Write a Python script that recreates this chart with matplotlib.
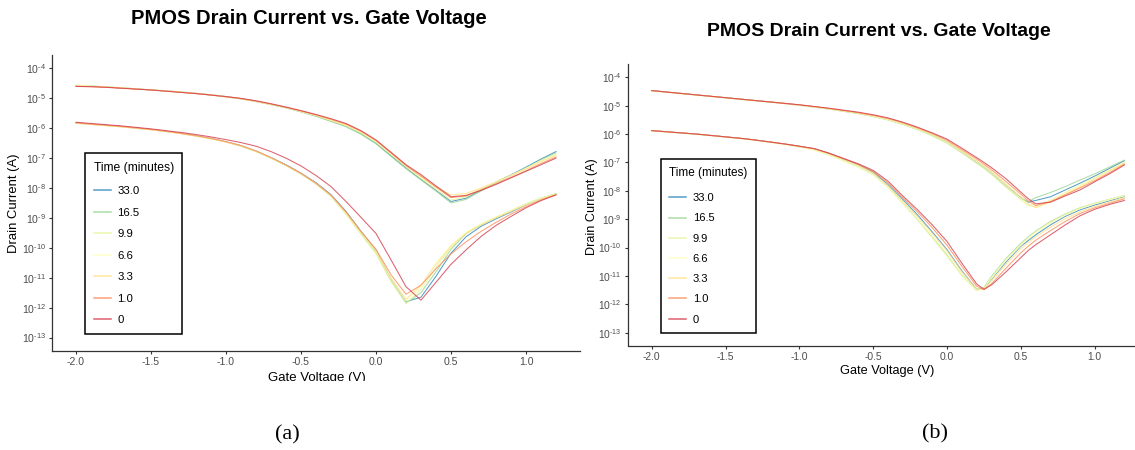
import numpy as np
import matplotlib
matplotlib.use("Agg")
import matplotlib.pyplot as plt
from matplotlib.lines import Line2D
from matplotlib.patches import Rectangle

plt.rcParams['font.family'] = ['Liberation Sans', 'DejaVu Sans']
plt.rcParams['mathtext.fontset'] = 'custom'
plt.rcParams['mathtext.rm'] = 'Liberation Sans'
plt.rcParams['mathtext.it'] = 'Liberation Sans:italic'
plt.rcParams['mathtext.bf'] = 'Liberation Sans:bold'

# ---------------- text ----------------
TITLE = "PMOS Drain Current vs. Gate Voltage"
XLABEL = "Gate Voltage (V)"
YLABEL = "Drain Current (A)"
LEGEND_TITLE = "Time (minutes)"
captions = ["(a)", "(b)"]
times = ["33.0", "16.5", "9.9", "6.6", "3.3", "1.0", "0"]
colors = ["#3288BD", "#99D594", "#E6F598", "#FFFFBF", "#FEE08B", "#FC8D59", "#D53E4F"]
x_ticks = [-2.0, -1.5, -1.0, -0.5, 0.0, 0.5, 1.0]
x_tick_labels = ["-2.0", "-1.5", "-1.0", "-0.5", "0.0", "0.5", "1.0"]
y_tick_exponents = [-4, -5, -6, -7, -8, -9, -10, -11, -12, -13]

# ---------------- panel (a) data: log10 of drain current (A) ----------------
vg_a = [-2.0, -1.9, -1.8, -1.7, -1.6, -1.5, -1.4, -1.3, -1.2, -1.1,
        -1.0, -0.9, -0.8, -0.7, -0.6, -0.5, -0.4, -0.3, -0.2, -0.1,
        0.0, 0.1, 0.2, 0.3, 0.4, 0.5, 0.6, 0.7, 0.8, 0.9, 1.0, 1.1, 1.2]

a_up_33_0 = [-4.57, -4.59, -4.62, -4.65, -4.68, -4.72, -4.75, -4.79, -4.83, -4.88,
             -4.94, -5.01, -5.10, -5.20, -5.31, -5.44, -5.59, -5.76, -5.93, -6.18,
             -6.50, -6.92, -7.33, -7.71, -8.08, -8.45, -8.34, -8.07, -7.80, -7.56,
             -7.30, -7.03, -6.78]
a_up_16_5 = [-4.57, -4.59, -4.62, -4.65, -4.68, -4.72, -4.75, -4.79, -4.84, -4.89,
             -4.95, -5.02, -5.11, -5.21, -5.32, -5.45, -5.60, -5.77, -5.95, -6.20,
             -6.52, -6.94, -7.35, -7.73, -8.10, -8.50, -8.38, -8.10, -7.83, -7.58,
             -7.33, -7.06, -6.82]
a_up_9_9 = [-4.56, -4.58, -4.61, -4.64, -4.68, -4.71, -4.75, -4.79, -4.83, -4.88,
            -4.94, -5.01, -5.10, -5.20, -5.31, -5.44, -5.58, -5.75, -5.92, -6.16,
            -6.47, -6.88, -7.29, -7.67, -8.03, -8.40, -8.30, -8.05, -7.80, -7.57,
            -7.33, -7.08, -6.86]
a_up_6_6 = [-4.57, -4.59, -4.62, -4.65, -4.68, -4.72, -4.75, -4.79, -4.83, -4.88,
            -4.94, -5.01, -5.10, -5.20, -5.31, -5.43, -5.57, -5.73, -5.90, -6.13,
            -6.44, -6.84, -7.25, -7.63, -7.98, -8.30, -8.22, -8.02, -7.80, -7.58,
            -7.35, -7.10, -6.88]
a_up_3_3 = [-4.58, -4.60, -4.62, -4.65, -4.69, -4.72, -4.76, -4.80, -4.84, -4.89,
            -4.95, -5.01, -5.10, -5.20, -5.31, -5.43, -5.57, -5.73, -5.89, -6.12,
            -6.42, -6.82, -7.23, -7.60, -7.95, -8.23, -8.18, -8.00, -7.80, -7.58,
            -7.36, -7.12, -6.90]
a_up_1_0 = [-4.60, -4.61, -4.63, -4.66, -4.69, -4.72, -4.76, -4.80, -4.84, -4.89,
            -4.95, -5.01, -5.09, -5.19, -5.30, -5.42, -5.55, -5.70, -5.86, -6.10,
            -6.41, -6.83, -7.25, -7.60, -7.97, -8.32, -8.26, -8.06, -7.86, -7.64,
            -7.42, -7.18, -6.96]
a_up_0 = [-4.60, -4.61, -4.63, -4.66, -4.69, -4.72, -4.76, -4.80, -4.84, -4.89,
          -4.94, -5.00, -5.08, -5.18, -5.29, -5.41, -5.54, -5.68, -5.84, -6.08,
          -6.39, -6.80, -7.22, -7.55, -7.93, -8.29, -8.25, -8.08, -7.88, -7.66,
          -7.44, -7.22, -7.00]

a_lo_33_0 = [-5.82, -5.86, -5.90, -5.94, -5.99, -6.04, -6.10, -6.17, -6.25, -6.34,
             -6.45, -6.58, -6.76, -6.98, -7.22, -7.50, -7.82, -8.22, -8.78, -9.45,
             -10.08, -11.05, -11.80, -11.65, -10.95, -10.18, -9.63, -9.28, -9.03, -8.80,
             -8.56, -8.36, -8.20]
a_lo_16_5 = [-5.83, -5.87, -5.91, -5.95, -6.00, -6.05, -6.11, -6.18, -6.26, -6.35,
             -6.46, -6.60, -6.78, -7.00, -7.25, -7.53, -7.86, -8.27, -8.85, -9.52,
             -10.15, -11.10, -11.85, -11.50, -10.80, -10.05, -9.52, -9.22, -8.98, -8.76,
             -8.53, -8.34, -8.19]
a_lo_9_9 = [-5.83, -5.87, -5.91, -5.95, -6.00, -6.05, -6.11, -6.18, -6.26, -6.35,
            -6.46, -6.60, -6.78, -7.00, -7.25, -7.53, -7.86, -8.28, -8.88, -9.55,
            -10.20, -11.12, -11.85, -11.40, -10.65, -9.98, -9.50, -9.20, -8.97, -8.75,
            -8.53, -8.34, -8.19]
a_lo_6_6 = [-5.83, -5.87, -5.91, -5.95, -6.00, -6.05, -6.11, -6.18, -6.26, -6.35,
            -6.46, -6.59, -6.77, -6.99, -7.24, -7.52, -7.85, -8.26, -8.84, -9.50,
            -10.12, -11.05, -11.78, -11.30, -10.50, -9.90, -9.48, -9.20, -8.97, -8.76,
            -8.54, -8.35, -8.20]
a_lo_3_3 = [-5.83, -5.87, -5.91, -5.95, -6.00, -6.05, -6.11, -6.18, -6.26, -6.35,
            -6.46, -6.59, -6.77, -6.99, -7.24, -7.52, -7.85, -8.25, -8.82, -9.48,
            -10.10, -11.00, -11.72, -11.25, -10.55, -9.95, -9.52, -9.24, -9.00, -8.78,
            -8.56, -8.37, -8.21]
a_lo_1_0 = [-5.82, -5.86, -5.90, -5.94, -5.99, -6.04, -6.10, -6.17, -6.25, -6.34,
            -6.45, -6.58, -6.76, -6.98, -7.23, -7.51, -7.84, -8.24, -8.80, -9.45,
            -10.05, -10.90, -11.55, -11.25, -10.70, -10.20, -9.80, -9.45, -9.15, -8.87,
            -8.62, -8.40, -8.22]
a_lo_0 = [-5.80, -5.84, -5.88, -5.92, -5.97, -6.02, -6.08, -6.14, -6.21, -6.29,
          -6.38, -6.48, -6.60, -6.78, -7.00, -7.26, -7.58, -7.95, -8.45, -8.98,
          -9.52, -10.40, -11.30, -11.75, -11.15, -10.55, -10.07, -9.62, -9.25, -8.95,
          -8.66, -8.42, -8.23]

# ---------------- panel (b) data: log10 of drain current (A) ----------------
vg_b = [-2.0, -1.9, -1.8, -1.7, -1.6, -1.5, -1.4, -1.3, -1.2, -1.1,
        -1.0, -0.9, -0.8, -0.7, -0.6, -0.5, -0.4, -0.3, -0.2, -0.1,
        0.0, 0.1, 0.2, 0.25, 0.3, 0.4, 0.5, 0.55, 0.6, 0.7, 0.8, 0.9, 1.0, 1.1, 1.2]

b_up_33_0 = [-4.47, -4.52, -4.57, -4.62, -4.67, -4.72, -4.77, -4.82, -4.87, -4.92,
             -4.98, -5.04, -5.11, -5.19, -5.27, -5.37, -5.49, -5.64, -5.82, -6.03,
             -6.29, -6.63, -6.98, -7.16, -7.36, -7.82, -8.25, -8.40, -8.34, -8.21,
             -7.97, -7.73, -7.48, -7.21, -6.94]
b_up_16_5 = [-4.47, -4.52, -4.57, -4.62, -4.67, -4.72, -4.77, -4.82, -4.87, -4.93,
             -4.99, -5.05, -5.12, -5.20, -5.28, -5.38, -5.50, -5.66, -5.84, -6.06,
             -6.32, -6.66, -7.02, -7.20, -7.40, -7.86, -8.28, -8.38, -8.24, -8.06,
             -7.85, -7.62, -7.40, -7.16, -6.92]
b_up_9_9 = [-4.48, -4.53, -4.58, -4.63, -4.68, -4.73, -4.78, -4.83, -4.88, -4.93,
            -4.99, -5.05, -5.12, -5.20, -5.28, -5.38, -5.50, -5.66, -5.84, -6.06,
            -6.32, -6.66, -7.02, -7.21, -7.42, -7.88, -8.32, -8.52, -8.55, -8.33,
            -8.06, -7.80, -7.53, -7.26, -7.00]
b_up_6_6 = [-4.48, -4.53, -4.58, -4.63, -4.68, -4.73, -4.78, -4.83, -4.88, -4.93,
            -4.99, -5.05, -5.12, -5.19, -5.27, -5.37, -5.49, -5.64, -5.82, -6.03,
            -6.29, -6.62, -6.97, -7.16, -7.36, -7.82, -8.28, -8.50, -8.58, -8.36,
            -8.08, -7.82, -7.55, -7.28, -7.02]
b_up_3_3 = [-4.47, -4.52, -4.57, -4.62, -4.67, -4.72, -4.77, -4.82, -4.87, -4.92,
            -4.98, -5.04, -5.10, -5.18, -5.26, -5.35, -5.47, -5.62, -5.80, -6.01,
            -6.26, -6.59, -6.94, -7.12, -7.32, -7.77, -8.22, -8.46, -8.60, -8.40,
            -8.12, -7.86, -7.58, -7.30, -7.03]
b_up_1_0 = [-4.47, -4.52, -4.57, -4.62, -4.67, -4.72, -4.77, -4.82, -4.87, -4.92,
            -4.97, -5.03, -5.10, -5.17, -5.25, -5.34, -5.45, -5.60, -5.78, -5.98,
            -6.22, -6.55, -6.88, -7.06, -7.25, -7.68, -8.12, -8.36, -8.52, -8.38,
            -8.14, -7.90, -7.64, -7.36, -7.06]
b_up_0 = [-4.47, -4.52, -4.57, -4.62, -4.67, -4.72, -4.77, -4.82, -4.87, -4.92,
          -4.97, -5.03, -5.09, -5.16, -5.23, -5.32, -5.43, -5.58, -5.76, -5.96,
          -6.18, -6.50, -6.83, -7.00, -7.18, -7.58, -8.05, -8.28, -8.46, -8.40,
          -8.18, -7.97, -7.68, -7.40, -7.09]

b_lo_33_0 = [-5.88, -5.92, -5.96, -6.00, -6.05, -6.10, -6.15, -6.21, -6.28, -6.35,
             -6.43, -6.52, -6.68, -6.88, -7.08, -7.34, -7.78, -8.30, -8.85, -9.45,
             -10.08, -10.82, -11.47, -11.45, -11.12, -10.50, -9.95, -9.75, -9.55, -9.20,
             -8.90, -8.67, -8.50, -8.35, -8.20]
b_lo_16_5 = [-5.88, -5.92, -5.96, -6.00, -6.05, -6.10, -6.15, -6.21, -6.28, -6.35,
             -6.44, -6.54, -6.72, -6.93, -7.15, -7.42, -7.86, -8.42, -9.00, -9.62,
             -10.25, -10.95, -11.50, -11.40, -11.02, -10.38, -9.85, -9.62, -9.42, -9.08,
             -8.82, -8.60, -8.44, -8.30, -8.17]
b_lo_9_9 = [-5.89, -5.93, -5.97, -6.01, -6.06, -6.11, -6.16, -6.22, -6.29, -6.37,
            -6.46, -6.56, -6.74, -6.95, -7.17, -7.44, -7.88, -8.45, -9.03, -9.66,
            -10.30, -11.00, -11.52, -11.42, -11.05, -10.40, -9.88, -9.64, -9.44, -9.10,
            -8.83, -8.61, -8.44, -8.30, -8.17]
b_lo_6_6 = [-5.89, -5.93, -5.97, -6.01, -6.06, -6.11, -6.16, -6.22, -6.29, -6.37,
            -6.45, -6.55, -6.73, -6.94, -7.16, -7.43, -7.87, -8.43, -8.99, -9.60,
            -10.22, -10.95, -11.50, -11.45, -11.10, -10.45, -9.92, -9.68, -9.48, -9.14,
            -8.86, -8.63, -8.46, -8.32, -8.18]
b_lo_3_3 = [-5.88, -5.92, -5.96, -6.00, -6.05, -6.10, -6.15, -6.21, -6.28, -6.35,
            -6.44, -6.53, -6.70, -6.90, -7.11, -7.38, -7.82, -8.36, -8.91, -9.50,
            -10.12, -10.85, -11.46, -11.48, -11.18, -10.58, -10.04, -9.82, -9.62, -9.28,
            -8.98, -8.74, -8.55, -8.40, -8.24]
b_lo_1_0 = [-5.88, -5.92, -5.96, -6.00, -6.05, -6.10, -6.15, -6.21, -6.28, -6.35,
            -6.43, -6.52, -6.68, -6.87, -7.07, -7.32, -7.72, -8.24, -8.75, -9.30,
            -9.92, -10.66, -11.36, -11.48, -11.28, -10.72, -10.18, -9.95, -9.74, -9.40,
            -9.08, -8.80, -8.60, -8.44, -8.28]
b_lo_0 = [-5.88, -5.92, -5.96, -6.00, -6.05, -6.10, -6.15, -6.21, -6.28, -6.35,
          -6.43, -6.51, -6.67, -6.86, -7.05, -7.28, -7.66, -8.18, -8.67, -9.20,
          -9.79, -10.55, -11.28, -11.47, -11.32, -10.85, -10.35, -10.10, -9.90, -9.55,
          -9.20, -8.88, -8.65, -8.48, -8.34]

a_upper = [a_up_33_0, a_up_16_5, a_up_9_9, a_up_6_6, a_up_3_3, a_up_1_0, a_up_0]
a_lower = [a_lo_33_0, a_lo_16_5, a_lo_9_9, a_lo_6_6, a_lo_3_3, a_lo_1_0, a_lo_0]
b_upper = [b_up_33_0, b_up_16_5, b_up_9_9, b_up_6_6, b_up_3_3, b_up_1_0, b_up_0]
b_lower = [b_lo_33_0, b_lo_16_5, b_lo_9_9, b_lo_6_6, b_lo_3_3, b_lo_1_0, b_lo_0]

# ---------------- figure ----------------
W, H = 1135, 450
fig = plt.figure(figsize=(W / 100, H / 100), dpi=100)
fig.patch.set_facecolor("white")

HYPHEN = "\u2010"


def px_rect(x0, y0, x1, y1):
    return [x0 / W, 1 - y1 / H, (x1 - x0) / W, (y1 - y0) / H]


def ftext(x, y, s, **kw):
    return fig.text(x / W, 1 - y / H, s, **kw)


def draw_panel(rect, vg, uppers, lowers, tick_fs, leg_anchor, leg_fs, leg_title_fs,
               leg_spacing, leg_pad, leg_sep):
    ax = fig.add_axes(px_rect(*rect))
    for i in range(len(times)):
        for curve in (uppers[i], lowers[i]):
            ax.plot(vg, np.power(10.0, curve), color=colors[i], lw=0.75, alpha=0.82)
    ax.set_yscale("log")
    ax.set_xlim(-2.16, 1.36)
    ax.set_ylim(10 ** -13.45, 10 ** -3.55)
    ax.set_xticks(x_ticks)
    ax.set_xticklabels(x_tick_labels)
    ax.set_yticks([10.0 ** e for e in y_tick_exponents])
    ax.set_yticklabels(["$\\mathdefault{10^{" + HYPHEN + str(-e) + "}}$"
                        for e in y_tick_exponents])
    ax.minorticks_off()
    ax.tick_params(axis="both", labelsize=tick_fs, labelcolor="#4D4D4D", color="#333333",
                   length=2.5, width=0.8, pad=2)
    for s in ("top", "right"):
        ax.spines[s].set_visible(False)
    for s in ("left", "bottom"):
        ax.spines[s].set_color("#333333")
        ax.spines[s].set_linewidth(0.9)
    handles = [Line2D([], [], color=c, lw=1.1, alpha=0.82) for c in colors]
    leg = ax.legend(handles, times, title=LEGEND_TITLE, loc="upper left",
                    bbox_to_anchor=(leg_anchor[0] / W, 1 - leg_anchor[1] / H),
                    bbox_transform=fig.transFigure, borderaxespad=0,
                    fontsize=leg_fs, title_fontsize=leg_title_fs, frameon=True,
                    fancybox=False, edgecolor="black", framealpha=1,
                    handlelength=1.5, handletextpad=0.6, labelspacing=leg_spacing,
                    borderpad=leg_pad, alignment="left")
    leg.get_frame().set_linewidth(1.1)
    leg._legend_box.sep = leg_sep
    return ax


axA = draw_panel((52, 55, 580, 351), vg_a, a_upper, a_lower, 7.6,
                 (85, 153), 8.2, 8.7, 1.01, 0.75, 9)
axB = draw_panel((628, 64.5, 1148, 345.5), vg_b, b_upper, b_lower, 7.4,
                 (661, 159), 8.0, 8.5, 0.92, 0.75, 10)

# titles and axis labels
ftext(309, 19, TITLE, ha="center", va="center", fontsize=14.5, fontweight="bold")
ftext(879, 31, TITLE, ha="center", va="center", fontsize=14.0, fontweight="bold")
ftext(317, 378, XLABEL, ha="center", va="center", fontsize=9.5)
ftext(887, 371, XLABEL, ha="center", va="center", fontsize=9.2)
ftext(14, 203, YLABEL, ha="center", va="center", rotation=90, fontsize=9.4)
ftext(592, 207, YLABEL, ha="center", va="center", rotation=90, fontsize=9.1)

# the left picture is cut just below its axis title
fig.patches.append(Rectangle((0, 0), 600 / W, (H - 381) / H, transform=fig.transFigure,
                             facecolor="white", edgecolor="none", zorder=5))

# captions under the two pictures
ftext(287, 435, captions[0], ha="center", va="center", fontsize=16,
      family=["Liberation Serif", "DejaVu Serif"], zorder=10)
ftext(935, 434, captions[1], ha="center", va="center", fontsize=16,
      family=["Liberation Serif", "DejaVu Serif"], zorder=10)

fig.savefig("out.png", dpi=100, facecolor="white")
